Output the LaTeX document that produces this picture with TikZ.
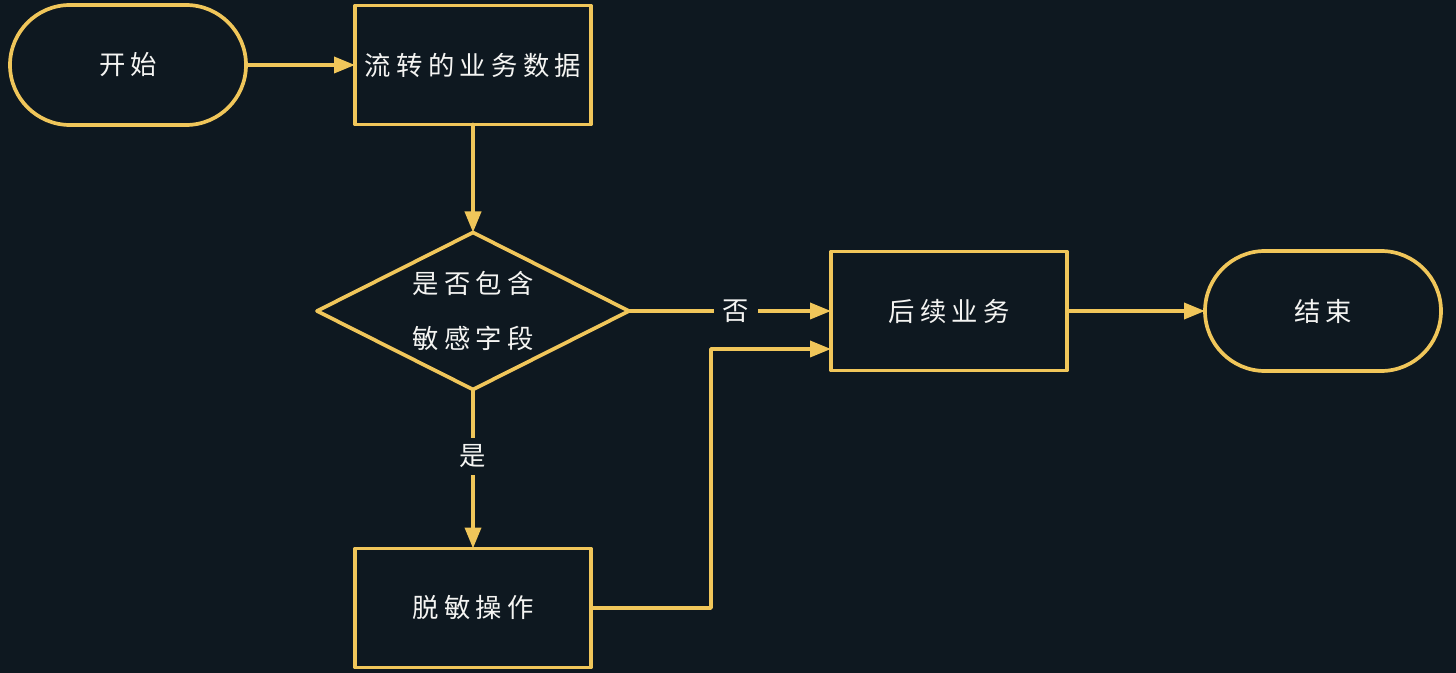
\documentclass[tikz,border=0pt]{standalone}
\usepackage{fontspec}
\setmainfont{Noto Sans CJK SC}
\newfontfamily\cjk[LetterSpace=20]{Noto Sans CJK SC}
\usepackage{tikz}
\usetikzlibrary{arrows.meta,positioning,shapes.geometric}
\definecolor{nightbg}{HTML}{0E1820}
\definecolor{gold}{HTML}{F0C65A}
\definecolor{chalk}{HTML}{F4F4F2}
\tikzset{
    every picture/.style={line cap=round,line join=round},
    termbox/.style={draw=gold,line width=2.1pt,rounded corners=1.2cm,
      minimum width=4.72cm,minimum height=2.4cm,inner sep=0pt,outer sep=0pt,
      text=chalk,font=\cjk\fontsize{15pt}{18pt}\selectfont,align=center},
    flowbox/.style={draw=gold,line width=2.1pt,
      minimum width=4.72cm,minimum height=2.38cm,inner sep=0pt,outer sep=0pt,
      text=chalk,font=\cjk\fontsize{15pt}{18pt}\selectfont,align=center},
    decision/.style={draw=gold,line width=2.1pt,diamond,aspect=2,
      minimum width=6.24cm,minimum height=3.14cm,inner sep=0pt,outer sep=0pt,
      text=chalk,font=\cjk\fontsize{15pt}{18pt}\selectfont,align=center},
    flowarrow/.style={-{Triangle[length=4.2mm,width=3.2mm]},draw=gold,
      line width=2.1pt},
    edgelabel/.style={fill=nightbg,text=chalk,inner xsep=5pt,inner ysep=4pt,
      font=\cjk\fontsize{15pt}{18pt}\selectfont}
}
\begin{document}
\begin{tikzpicture}
  \fill[nightbg] (0,0) rectangle (29.12,-13.46);
  \useasboundingbox (0,0) rectangle (29.12,-13.46);
  \node[termbox] (start) at (2.56,-1.3) {开始};
  \node[flowbox,right=2.18cm of start] (data) {流转的业务数据};
  \node[decision,below=2.16cm of data] (check) {是否包含\\[13pt]敏感字段};
  \node[flowbox,below=3.18cm of check] (mask) {脱敏操作};
  \node[flowbox,right=4.04cm of check] (next) {后续业务};
  \node[termbox,right=2.76cm of next] (stop) {结束};
  \draw[flowarrow] (start)--(data);
  \draw[flowarrow] (data)--(check);
  \draw[flowarrow] (check.east)--
    node[edgelabel,pos=0.53]{否} (next.west);
  \draw[flowarrow] (check.south)--
    node[edgelabel,pos=0.42]{是} (mask.north);
  \draw[flowarrow] (mask.east)--++(2.4,0) |- ([yshift=-0.76cm]next.west);
  \draw[flowarrow] (next)--(stop);
\end{tikzpicture}
\end{document}
